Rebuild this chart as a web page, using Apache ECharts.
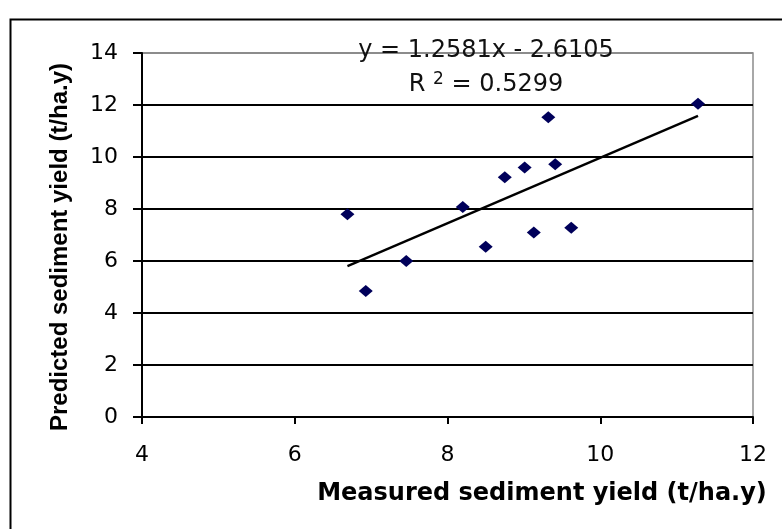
<!DOCTYPE html>
<html><head><meta charset="utf-8">
<script src="https://cdn.jsdelivr.net/npm/echarts@6.0.0/dist/echarts.min.js"></script>
<style>html,body{margin:0;padding:0;background:#fff}#c{width:782px;height:529px}</style>
</head><body><div id="c"></div>
<script>
// ---- data ----
const measured  = [6.69, 6.93, 7.46, 8.20, 8.50, 8.75, 9.01, 9.13, 9.32, 9.41, 9.62, 11.28];
const predicted = [7.80, 4.85, 6.00, 8.08, 6.55, 9.22, 9.60, 7.10, 11.53, 9.72, 7.28, 12.05];
const xTicks = [4, 6, 8, 10, 12];
const yTicks = [0, 2, 4, 6, 8, 10, 12, 14];
const slope = 1.2581;
const intercept = -2.6105;
const rSquared = '0.5299';
const equationText = 'y = 1.2581x - 2.6105';
const xTitle = 'Measured sediment yield (t/ha.y)';
const yTitle = 'Predicted sediment yield (t/ha.y)';

// ---- build ----
const points = measured.map((x, i) => [x, predicted[i]]);
const xMin = Math.min(...measured), xMax = Math.max(...measured);
const trend = [xMin, xMax].map(x => [x, slope * x + intercept]);

const chart = echarts.init(document.getElementById('c'));
const gridColors = yTicks.map((v, i) => i === yTicks.length - 1 ? '#8c8c8c' : '#000');

chart.setOption({
  animation: false,
  backgroundColor: '#fff',
  grid: { left: 142, top: 53, right: 29, bottom: 112, show: true, borderColor: '#8c8c8c', borderWidth: 1.5, backgroundColor: 'transparent' },
  xAxis: {
    type: 'value', min: xTicks[0], max: xTicks[xTicks.length - 1], interval: 2,
    axisLine: { show: true, onZero: false, lineStyle: { color: '#000', width: 2 } },
    axisTick: { show: true, length: 7, lineStyle: { color: '#000', width: 2 } },
    axisLabel: { color: '#000', fontFamily: 'DejaVu Sans', fontSize: 22, margin: 27 },
    splitLine: { show: false }
  },
  yAxis: {
    type: 'value', min: yTicks[0], max: yTicks[yTicks.length - 1], interval: 2,
    axisLine: { show: true, onZero: false, lineStyle: { color: '#000', width: 2 } },
    axisTick: { show: true, length: 9, lineStyle: { color: '#000', width: 2 } },
    axisLabel: { color: '#000', fontFamily: 'DejaVu Sans', fontSize: 22, margin: 24 },
    splitLine: { show: true, lineStyle: { color: gridColors, width: 1.8 } }
  },
  series: [
    {
      type: 'scatter', data: points, symbol: 'diamond', symbolSize: [14, 12],
      itemStyle: { color: '#00005a', opacity: 1 }, z: 3
    },
    {
      type: 'line', data: trend, symbol: 'none', lineStyle: { color: '#000', width: 2.4 }, z: 4
    }
  ],
  graphic: [
    { type: 'rect', left: 8, top: 17, shape: { width: 800, height: 560 }, style: { fill: 'none', stroke: '#000', lineWidth: 2 }, z: 0, silent: true },
    { type: 'text', x: 486, y: 51, z: 10, style: { text: equationText, fill: '#111', fontFamily: 'DejaVu Sans', fontSize: 24, align: 'center', verticalAlign: 'middle' } },
    { type: 'text', x: 486, y: 85, z: 10, style: {
        text: '{a|R }{s|2}{a| = ' + rSquared + '}', align: 'center', verticalAlign: 'middle',
        rich: { a: { fill: '#111', fontFamily: 'DejaVu Sans', fontSize: 24, lineHeight: 28 },
                s: { fill: '#111', fontFamily: 'DejaVu Sans', fontSize: 17, lineHeight: 28, verticalAlign: 'top' } } } },
    { type: 'text', x: 542, y: 494, z: 10, style: { text: xTitle, fill: '#000', fontFamily: 'DejaVu Sans', fontWeight: 'bold', fontSize: 24, align: 'center', verticalAlign: 'middle' } },
    { type: 'text', x: 60, y: 247, rotation: Math.PI / 2, z: 10, style: { text: yTitle, fill: '#000', fontFamily: 'Liberation Sans', fontWeight: 'bold', fontSize: 24, align: 'center', verticalAlign: 'middle' } }
  ]
});
</script></body></html>
